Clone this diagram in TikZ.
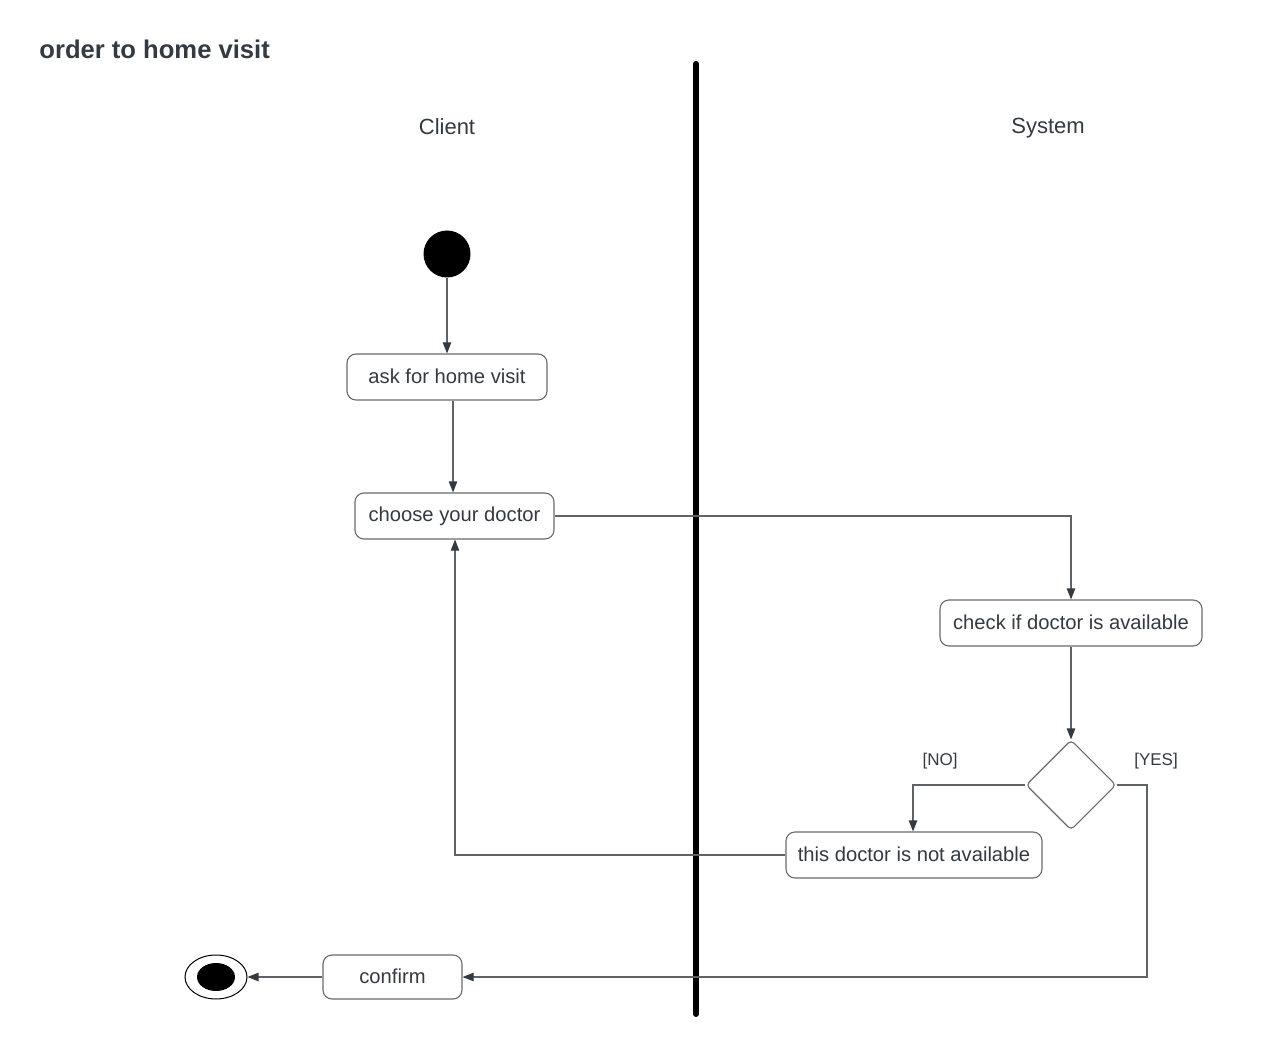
\documentclass[tikz,border=0pt]{standalone}
\usepackage{fontspec}
\setmainfont{Liberation Sans}
\usetikzlibrary{arrows.meta,shapes.geometric}
\definecolor{txt}{HTML}{343A42}
\definecolor{ln}{HTML}{5F6368}
\definecolor{bd}{HTML}{6A6A6A}
\tikzset{
  act/.style={draw=bd, line width=0.55pt, rounded corners=4.5pt, fill=white, text=txt, font=\fontsize{10.1}{12}\selectfont, inner sep=0pt, minimum height=23pt},
  flow/.style={draw=ln, line width=0.55pt, -{Triangle[length=5.5pt,width=4.2pt,fill=txt,color=txt]}},
  guard/.style={text=txt, font=\fontsize{8.5}{10}\selectfont},
  lane/.style={text=txt, font=\fontsize{11}{13}\selectfont},
}
\begin{document}
\begin{tikzpicture}[x=0.5pt,y=-0.5pt]
\useasboundingbox[fill=white] (0,0) rectangle (1280,1048);
\node[anchor=west, inner sep=0pt, text=txt, font=\fontsize{12.8}{15}\selectfont\bfseries] (title) at (39,49) {order to home visit};
\node[lane] (client) at (447,127) {Client};
\node[lane] (system) at (1048,128) {System};
\coordinate (laneTop) at (696,64);
\coordinate (laneBot) at (696,1014);
\draw[line width=3pt, line cap=round, black] (laneTop) -- (laneBot);

\node[circle, fill=black, minimum size=23.5pt, inner sep=0pt] (start) at (447,254) {};
\node[act, minimum width=100pt] (ask) at (447,377) {\raisebox{0.6pt}{ask for home visit}};
\node[act, minimum width=99.5pt] (choose) at (454.5,516) {\raisebox{0.6pt}{choose your doctor}};
\node[act, minimum width=131pt] (check) at (1071,623) {\raisebox{0.6pt}{check if doctor is available}};
\node[diamond, draw=bd, line width=0.55pt, rounded corners=2pt, minimum width=45pt, minimum height=45pt, inner sep=0pt, fill=white] (dec) at (1071,785) {};
\node[act, minimum width=128pt] (notav) at (914,855) {\raisebox{0.6pt}{this doctor is not available}};
\node[act, minimum width=69.5pt, minimum height=22pt] (confirm) at (392.5,977) {\raisebox{0.6pt}{confirm}};
\node[ellipse, draw=black, line width=0.5pt, minimum width=31pt, minimum height=22pt, inner sep=0pt] (endo) at (216,977) {};
\node[ellipse, fill=black, minimum width=19pt, minimum height=14pt, inner sep=0pt] (endi) at (216,977) {};

\node[guard] (nolab) at (940,761) {[NO]};
\node[guard] (yeslab) at (1156,761) {[YES]};

\draw[flow] (start) -- (ask);
\draw[flow] (ask.south -| 453,0) -- (choose.north -| 453,0);
\draw[flow] (choose.east) -- (1071,516) -- (check.north);
\draw[flow] (check) -- (dec.north);
\draw[flow] (dec.west) -- (913,785) -- (notav.north -| 913,0);
\draw[flow] (notav.west) -- (455,855) -- (choose.south -| 455,0);
\draw[flow] (dec.east) -- (1147,785) -- (1147,977) -- (confirm.east);
\draw[flow] (confirm.west) -- (endo.east);
\end{tikzpicture}
\end{document}
